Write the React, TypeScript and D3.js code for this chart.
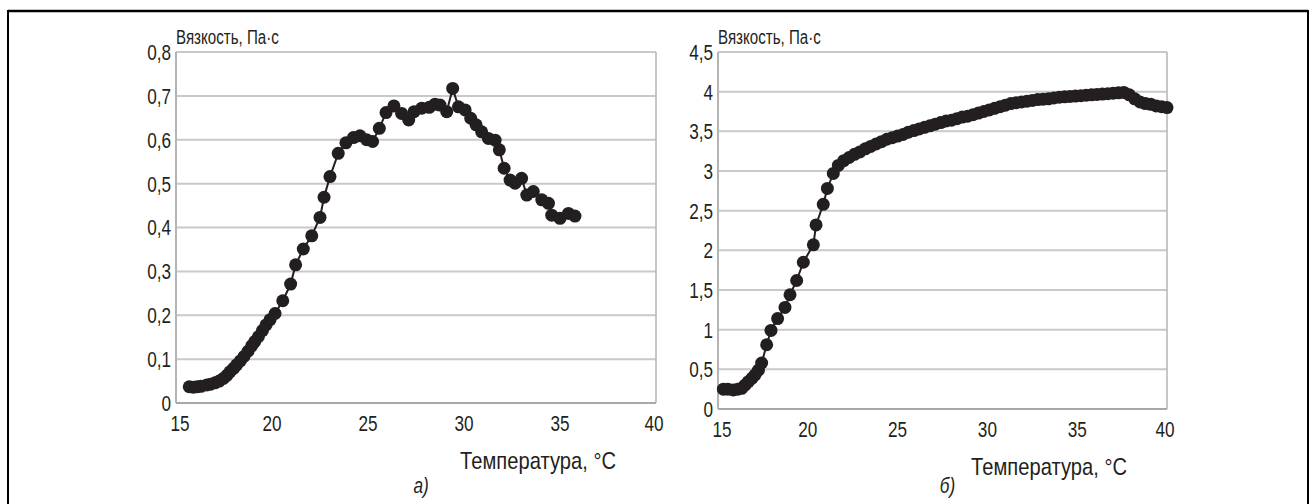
import * as d3 from 'd3';

// Panel a) — viscosity vs temperature
const tempA = [
  15.69, 15.9, 16.1, 16.3, 16.6, 16.8, 17.03, 17.25, 17.47, 17.65,
  17.81, 18.0, 18.16, 18.35, 18.54, 18.75, 18.94, 19.1, 19.29, 19.5,
  19.69, 19.9, 20.16, 20.56, 20.97, 21.23, 21.63, 22.07, 22.5, 22.71,
  23.02, 23.45, 23.85, 24.24, 24.58, 24.93, 25.24, 25.59, 25.94, 26.35,
  26.75, 27.12, 27.4, 27.8, 28.19, 28.49, 28.75, 29.1, 29.41, 29.71,
  30.06, 30.35, 30.63, 30.92, 31.27, 31.62, 31.84, 32.09, 32.4, 32.66,
  33.0, 33.27, 33.61, 34.05, 34.4, 34.57, 35.0, 35.44, 35.78,
];
const viscA = [
  0.037, 0.036, 0.037, 0.038, 0.041, 0.043, 0.046, 0.05, 0.056, 0.063,
  0.071, 0.079, 0.087, 0.096, 0.106, 0.118, 0.13, 0.14, 0.151, 0.165,
  0.178, 0.19, 0.204, 0.233, 0.271, 0.315, 0.351, 0.381, 0.423, 0.469,
  0.516, 0.569, 0.593, 0.605, 0.609, 0.6, 0.596, 0.626, 0.662, 0.677,
  0.66, 0.645, 0.664, 0.672, 0.674, 0.681, 0.679, 0.664, 0.717, 0.675,
  0.668, 0.649, 0.634, 0.618, 0.603, 0.599, 0.577, 0.535, 0.508, 0.501,
  0.512, 0.474, 0.482, 0.463, 0.455, 0.428, 0.421, 0.432, 0.426,
];

// Panel б)
const tempB = [
  15.3, 15.55, 15.85, 16.1, 16.32, 16.5, 16.69, 16.9, 17.06, 17.25,
  17.43, 17.71, 17.95, 18.32, 18.73, 19.01, 19.38, 19.75, 20.31, 20.46,
  20.86, 21.09, 21.42, 21.7, 22.0, 22.3, 22.6, 22.9, 23.2, 23.5,
  23.8, 24.1, 24.4, 24.7, 25.0, 25.3, 25.6, 25.9, 26.2, 26.5,
  26.8, 27.1, 27.4, 27.7, 28.0, 28.3, 28.6, 28.9, 29.2, 29.5,
  29.8, 30.1, 30.4, 30.7, 31.0, 31.3, 31.6, 31.9, 32.2, 32.5,
  32.8, 33.1, 33.4, 33.7, 34.0, 34.3, 34.6, 34.9, 35.2, 35.5,
  35.8, 36.1, 36.4, 36.7, 37.0, 37.3, 37.6, 37.9, 38.2, 38.5,
  38.8, 39.1, 39.4, 39.7, 40.0,
];
const viscB = [
  0.25, 0.25, 0.24, 0.25, 0.26, 0.3, 0.345, 0.39, 0.43, 0.49,
  0.58, 0.81, 0.99, 1.14, 1.28, 1.44, 1.62, 1.85, 2.07, 2.32,
  2.58, 2.78, 2.97, 3.07, 3.13, 3.17, 3.21, 3.24, 3.28, 3.31,
  3.34, 3.37, 3.4, 3.42, 3.44, 3.46, 3.49, 3.51, 3.53, 3.55,
  3.57, 3.59, 3.61, 3.63, 3.64, 3.66, 3.68, 3.69, 3.71, 3.73,
  3.75, 3.77, 3.79, 3.81, 3.83, 3.85, 3.86, 3.87, 3.88, 3.89,
  3.9, 3.905, 3.91, 3.92, 3.93, 3.935, 3.94, 3.945, 3.95, 3.955,
  3.96, 3.965, 3.97, 3.975, 3.98, 3.985, 3.99, 3.96, 3.91, 3.87,
  3.85, 3.84, 3.82, 3.81, 3.8,
];

const xTicks = [15, 20, 25, 30, 35, 40];
const yTicksA = [0, 0.1, 0.2, 0.3, 0.4, 0.5, 0.6, 0.7, 0.8];
const yTicksB = [0, 0.5, 1, 1.5, 2, 2.5, 3, 3.5, 4, 4.5];

const yTitle = 'Вязкость, Па·с';
const xTitle = 'Температура, °C';

const FONT = '"Liberation Sans", Arial, sans-serif';
const INK = '#231f20';

const fmt = (v: number) => String(v).replace('.', ',');

// condensed text: the source uses a narrow face, so squeeze horizontally
function T({ x, y, size, sx = 0.78, anchor = 'start', italic = false, dy = undefined, children }) {
  return (
    <text transform={`translate(${x},${y}) scale(${sx},1)`} dy={dy} textAnchor={anchor}
      fontSize={size} fontStyle={italic ? 'italic' : 'normal'} fill={INK}>
      {children}
    </text>
  );
}

function Panel({ temps, vals, yTicks, box, letter }) {
  const x = d3.scaleLinear().domain([15, 40]).range([box.left, box.right]);
  const y = d3.scaleLinear().domain([0, yTicks[yTicks.length - 1]]).range([box.bottom, box.top]);
  const pts = temps.map((t, i) => [t, vals[i]]);
  const line = d3.line().x(d => x(d[0])).y(d => y(d[1]));

  return (
    <g>
      {/* grid */}
      {yTicks.map(t => (
        <line key={t} x1={box.left} x2={box.right} y1={y(t)} y2={y(t)} stroke="#c9c9c9" strokeWidth={2} />
      ))}
      <line x1={box.left} x2={box.left} y1={box.top} y2={box.bottom} stroke="#b4b4b4" strokeWidth={2} />
      <line x1={box.right} x2={box.right} y1={box.top} y2={box.bottom} stroke="#b4b4b4" strokeWidth={1.5} />
      <line x1={box.left} x2={box.right} y1={box.bottom} y2={box.bottom} stroke="#a8a8a8" strokeWidth={2} />

      {yTicks.map(t => (
        <T key={t} x={box.left - 5} y={y(t)} dy="0.36em" anchor="end" size={22}>{fmt(t)}</T>
      ))}
      {xTicks.map(t => (
        <T key={t} x={x(t) + (t === 15 ? 4 : t === 40 ? -2 : 0)} y={box.bottom + 28} anchor="middle" size={22}>{t}</T>
      ))}

      <T x={box.left} y={box.top - 8} size={21} sx={0.72}>{yTitle}</T>
      <T x={box.right - 40} y={box.bottom + 66} anchor="end" size={24} sx={0.84}>{xTitle}</T>
      <T x={(box.left + box.right) / 2 + 5} y={493} anchor="middle" size={22} italic>{letter}</T>

      {/* series */}
      <path d={line(pts)} fill="none" stroke={INK} strokeWidth={2} />
      {pts.map((p, i) => (
        <circle key={i} cx={x(p[0])} cy={y(p[1])} r={6.5} fill={INK} />
      ))}
    </g>
  );
}

export default function App() {
  return (
    <svg width={1316} height={504} style={{ position: 'absolute', left: 0, top: 0, fontFamily: FONT }}>
      <rect width={1316} height={504} fill="#fff" />
      <line x1={8} x2={1308} y1={11} y2={11} stroke="#000" strokeWidth={2.5} />
      <line x1={8} x2={8} y1={10} y2={504} stroke="#000" strokeWidth={2} />
      <line x1={1308} x2={1308} y1={10} y2={504} stroke="#000" strokeWidth={2} />
      <Panel temps={tempA} vals={viscA} yTicks={yTicksA} letter="а)"
        box={{ left: 176, right: 656, top: 52, bottom: 403 }} />
      <Panel temps={tempB} vals={viscB} yTicks={yTicksB} letter="б)"
        box={{ left: 718, right: 1167, top: 52, bottom: 409 }} />
    </svg>
  );
}
